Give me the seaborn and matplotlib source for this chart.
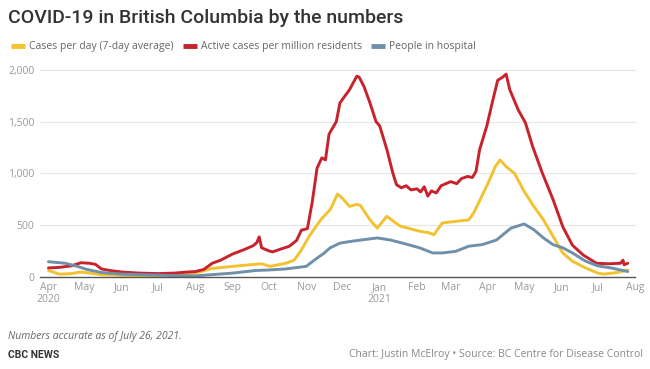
import matplotlib
matplotlib.use("Agg")
import matplotlib.pyplot as plt
from matplotlib.lines import Line2D
import seaborn as sns
import pandas as pd

# ---------------- data ----------------
cases_dates = ["2020-04-01", "2020-04-10", "2020-04-20", "2020-04-28", "2020-05-05", "2020-05-15",
               "2020-06-01", "2020-06-15", "2020-07-01", "2020-07-15", "2020-08-01", "2020-08-15",
               "2020-09-01", "2020-09-15", "2020-09-25", "2020-10-02", "2020-10-15", "2020-10-22",
               "2020-10-27", "2020-11-04", "2020-11-13", "2020-11-21", "2020-11-27", "2020-12-01",
               "2020-12-07", "2020-12-13", "2020-12-16", "2020-12-24", "2020-12-30", "2021-01-07",
               "2021-01-12", "2021-01-18", "2021-02-03", "2021-02-11", "2021-02-15", "2021-02-22",
               "2021-03-05", "2021-03-16", "2021-03-20", "2021-04-01", "2021-04-07", "2021-04-11",
               "2021-04-16", "2021-04-23", "2021-05-01", "2021-05-09", "2021-05-17", "2021-05-25",
               "2021-06-02", "2021-06-10", "2021-06-21", "2021-07-01", "2021-07-06", "2021-07-17",
               "2021-07-26"]
cases_vals = [60, 25, 30, 45, 35, 20,
              12, 10, 12, 20, 35, 80,
              100, 115, 125, 100, 130, 160,
              240, 400, 550, 650, 800, 760,
              680, 700, 690, 550, 470, 585,
              540, 490, 440, 425, 405, 520,
              535, 550, 615, 905, 1065, 1130,
              1065, 1000, 825, 680, 550, 390,
              230, 150, 85, 35, 25, 40,
              65]

active_dates = ["2020-04-01", "2020-04-10", "2020-04-20", "2020-04-28", "2020-05-05", "2020-05-10",
                "2020-05-15", "2020-05-22", "2020-06-01", "2020-06-15", "2020-07-01", "2020-07-15",
                "2020-07-25", "2020-08-01", "2020-08-08", "2020-08-15", "2020-08-22", "2020-09-01",
                "2020-09-10", "2020-09-18", "2020-09-21", "2020-09-23", "2020-09-25", "2020-10-01",
                "2020-10-04", "2020-10-18", "2020-10-24", "2020-10-28", "2020-11-02", "2020-11-06",
                "2020-11-10", "2020-11-14", "2020-11-17", "2020-11-20", "2020-11-26", "2020-11-29",
                "2020-12-02", "2020-12-07", "2020-12-13", "2020-12-15", "2020-12-19", "2020-12-24",
                "2020-12-29", "2021-01-01", "2021-01-07", "2021-01-12", "2021-01-15", "2021-01-19",
                "2021-01-23", "2021-01-27", "2021-02-01", "2021-02-04", "2021-02-07", "2021-02-10",
                "2021-02-13", "2021-02-17", "2021-02-21", "2021-02-25", "2021-03-01", "2021-03-06",
                "2021-03-10", "2021-03-15", "2021-03-19", "2021-03-22", "2021-03-25", "2021-03-31",
                "2021-04-05", "2021-04-09", "2021-04-13", "2021-04-16", "2021-04-19", "2021-04-26",
                "2021-05-02", "2021-05-08", "2021-05-16", "2021-05-25", "2021-06-02", "2021-06-10",
                "2021-06-19", "2021-06-30", "2021-07-10", "2021-07-20", "2021-07-22", "2021-07-23",
                "2021-07-26"]
active_vals = [85, 90, 105, 135, 130, 120,
               75, 60, 45, 35, 30, 35,
               45, 50, 70, 130, 160, 220,
               260, 300, 330, 385, 280, 250,
               240, 295, 350, 450, 465, 720,
               1050, 1150, 1130, 1380, 1500, 1680,
               1730, 1810, 1940, 1930, 1840, 1680,
               1500, 1460, 1230, 1000, 890, 860,
               880, 840, 850, 820, 870, 780,
               830, 810, 880, 900, 920, 900,
               950, 970, 960, 1020, 1230, 1460,
               1710, 1900, 1930, 1960, 1810, 1615,
               1490, 1260, 1005, 745, 485, 305,
               210, 130, 125, 130, 160, 115,
               130]

hosp_dates = ["2020-04-01", "2020-04-15", "2020-04-25", "2020-05-03", "2020-05-15", "2020-06-01",
              "2020-06-15", "2020-07-01", "2020-07-15", "2020-08-01", "2020-08-15", "2020-09-01",
              "2020-09-20", "2020-10-01", "2020-10-15", "2020-11-01", "2020-11-10", "2020-11-15",
              "2020-11-21", "2020-11-29", "2020-12-10", "2020-12-20", "2020-12-30", "2021-01-10",
              "2021-01-20", "2021-02-03", "2021-02-14", "2021-02-22", "2021-03-05", "2021-03-16",
              "2021-03-27", "2021-04-08", "2021-04-20", "2021-05-01", "2021-05-09", "2021-05-17",
              "2021-05-25", "2021-06-02", "2021-06-10", "2021-06-21", "2021-07-01", "2021-07-12",
              "2021-07-26"]
hosp_vals = [145, 130, 100, 70, 40, 25,
             20, 15, 10, 8, 20, 35,
             60, 65, 75, 100, 180, 220,
             280, 325, 345, 360, 375, 355,
             325, 280, 230, 230, 245, 295,
             310, 355, 470, 510, 455, 375,
             310, 280, 230, 150, 105, 85,
             50]

series_names = ["Cases per day (7-day average)", "Active cases per million residents", "People in hospital"]
series_colors = ["#F2C230", "#C8232D", "#6F90AA"]

month_ticks = ["2020-04-01", "2020-05-01", "2020-06-01", "2020-07-01", "2020-08-01", "2020-09-01",
               "2020-10-01", "2020-11-01", "2020-12-01", "2021-01-01", "2021-02-01", "2021-03-01",
               "2021-04-01", "2021-05-01", "2021-06-01", "2021-07-01", "2021-08-01"]
month_labels = ["Apr\n2020", "May", "Jun", "Jul", "Aug", "Sep", "Oct", "Nov", "Dec",
                "Jan\n2021", "Feb", "Mar", "Apr", "May", "Jun", "Jul", "Aug"]
y_ticks = [0, 500, 1000, 1500, 2000]
y_labels = ["0", "500", "1,000", "1,500", "2,000"]

# ---------------- build frame ----------------
frames = []
for name, d, v in [(series_names[0], cases_dates, cases_vals),
                   (series_names[1], active_dates, active_vals),
                   (series_names[2], hosp_dates, hosp_vals)]:
    frames.append(pd.DataFrame({"date": pd.to_datetime(d), "value": v, "series": name}))
df = pd.concat(frames, ignore_index=True)

sns.set_theme(style="white")
plt.rcParams["font.family"] = ["Open Sans", "DejaVu Sans"]

fig = plt.figure(figsize=(6.5, 3.69), dpi=100)
ax = fig.add_axes([40 / 650, 1 - 276.7 / 369, (635 - 40) / 650, (276.7 - 70) / 369])

sns.lineplot(data=df, x="date", y="value", hue="series", hue_order=series_names,
             palette=dict(zip(series_names, series_colors)), linewidth=2.1,
             legend=False, ax=ax, estimator=None)

ax.set_xlim(pd.Timestamp("2020-03-25"), pd.Timestamp("2021-08-01"))
ax.set_ylim(0, 2000)
ax.set_xlabel("")
ax.set_ylabel("")

ax.set_yticks(y_ticks)
ax.set_yticklabels(y_labels)
ax.set_xticks(pd.to_datetime(month_ticks))
ax.set_xticklabels(month_labels, linespacing=1.05)
ax.tick_params(axis="both", length=0, labelsize=7.5, colors="#9a9a9a", pad=4)

for y in y_ticks[1:]:
    ax.axhline(y, color="#e6e6e6", lw=0.8, zorder=0, clip_on=False)
for s in ["top", "right", "left"]:
    ax.spines[s].set_visible(False)
ax.spines["bottom"].set_color("#555555")
ax.spines["bottom"].set_linewidth(1.0)
ax.set_facecolor("white")

# ---------------- text ----------------
fig.text(8 / 650, 1 - 18 / 369, "COVID-19 in British Columbia by the numbers",
         fontsize=14, fontweight="medium", family=["Roboto", "DejaVu Sans"],
         color="#333333", va="center", ha="left")

handles = [Line2D([0], [0], color=c, lw=3.5, solid_capstyle="butt") for c in series_colors]
fig.legend(handles, series_names, loc="center left", bbox_to_anchor=(2 / 650, 1 - 47 / 369),
           ncol=3, frameon=False, fontsize=7.5, handlelength=1.3, handletextpad=0.4,
           columnspacing=0.9, labelcolor="#666666")

fig.text(8 / 650, 1 - 336 / 369, "Numbers accurate as of July 26, 2021.",
         fontsize=7.5, style="italic", color="#666666", va="center", ha="left")
fig.text(8 / 650, 1 - 355 / 369, "CBC NEWS", fontsize=7.5, fontweight="bold",
         family=["Roboto", "DejaVu Sans"], color="#333333", va="center", ha="left")
fig.text(643 / 650, 1 - 355 / 369,
         "Chart: Justin McElroy \u2022 Source: BC Centre for Disease Control",
         fontsize=7.5, color="#888888", va="center", ha="right")

fig.savefig("out.png", dpi=100, facecolor="white")
